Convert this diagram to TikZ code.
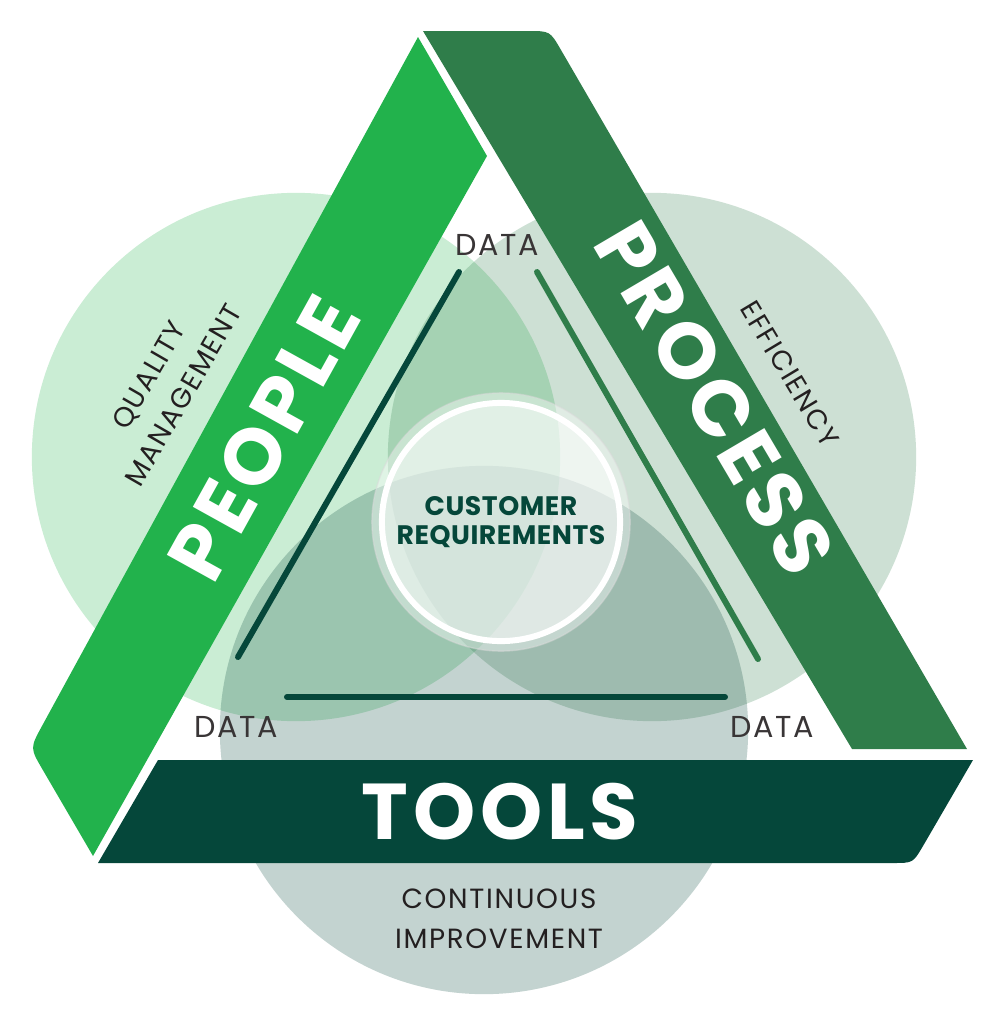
\documentclass[tikz,border=0pt]{standalone}
\usepackage{fontspec}
\usepackage{xcolor}
\usepackage{tikz}
\usetikzlibrary{calc, positioning}

\setmainfont{Poppins}
\newfontfamily\spaced[LetterSpace=6]{Poppins}
\newfontfamily\tight[LetterSpace=2]{Poppins}

\definecolor{peoplegreen}{HTML}{22B24C}
\definecolor{processgreen}{HTML}{2F7D4A}
\definecolor{toolsgreen}{HTML}{05473A}
\definecolor{textgrey}{HTML}{231F20}

\begin{document}
\begin{tikzpicture}[x=0.01cm,y=-0.01cm,
                    venn/.style={circle,inner sep=0pt,minimum size=5.28cm,fill opacity=0.24},
                    band/.style={text=white,inner sep=0pt,font=\spaced\fontsize{22.5pt}{27pt}\selectfont\bfseries},
                    aim/.style={text=textgrey,align=center,inner sep=0pt,font=\spaced\fontsize{7.9pt}{11.4pt}\selectfont},
                    data/.style={text=textgrey!90,inner sep=0pt,font=\spaced\fontsize{8.6pt}{10pt}\selectfont},
                    link/.style={line width=1.7pt,line cap=round}]

  \useasboundingbox (0,0) rectangle (1004,1024);

  % circles
  \node[venn,fill=peoplegreen] (C1) at (296,457) {};
  \node[venn,fill=processgreen] (C2) at (652,457) {};
  \node[venn,fill=toolsgreen] (C3) at (484,730) {};

  % bands
  \fill[peoplegreen] (418,37) -- (487,156) -- (93,856) -- (42.6,769.6)
        .. controls (30,748) .. (42,726) -- cycle;
  \fill[processgreen] (423,31) -- (528,31) .. controls (550,31) .. (561,50)
        -- (967,749) -- (852,749) -- cycle;
  \fill[toolsgreen] (158,760) -- (973,760) -- (923,846)
        .. controls (913,863) .. (893,863) -- (98,863) -- cycle;

  \coordinate (L1) at (459,272);
  \coordinate (L2) at (238,657);
  \coordinate (R1) at (537,272);
  \coordinate (R2) at (758,659);
  \coordinate (B1) at (287,697);
  \coordinate (B2) at (725,697);

  \draw[link,toolsgreen] (L1) -- (L2);
  \draw[link,processgreen] (R1) -- (R2);
  \draw[link,toolsgreen] (B1) -- (B2);

  \node[data] (D1) at (497,245) {DATA};
  \node[data] (D2) at (236,727) {DATA};
  \node[data] (D3) at (772,727) {DATA};

  \node[aim,rotate=60] (QM) at (166,385) {QUALITY\\MANAGEMENT};
  \node[aim,rotate=-59] (EF) at (790,374) {EFFICIENCY};
  \node[aim] (CI) at (499,919) {CONTINUOUS\\IMPROVEMENT};

  % centre
  \node[circle,minimum size=2.58cm,fill=white,fill opacity=0.4,draw=black!15,draw opacity=0.5] (halo) at (501,522) {};
  \node[circle,minimum size=2.38cm,fill=white,fill opacity=0.45,draw=white,line width=1.7pt] (CR) at (501,522) {};
  \node[text=toolsgreen,align=center,inner sep=0pt,font=\tight\fontsize{7.6pt}{8.2pt}\selectfont\bfseries] (CRtext) at (CR) {CUSTOMER\\REQUIREMENTS};

  \node[band,rotate=61] (people) at (264,438) {PEOPLE};
  \node[band,rotate=-59.5] (process) at (715,398) {PROCESS};
  \node[band] (tools) at (500,812) {TOOLS};

\end{tikzpicture}
\end{document}
